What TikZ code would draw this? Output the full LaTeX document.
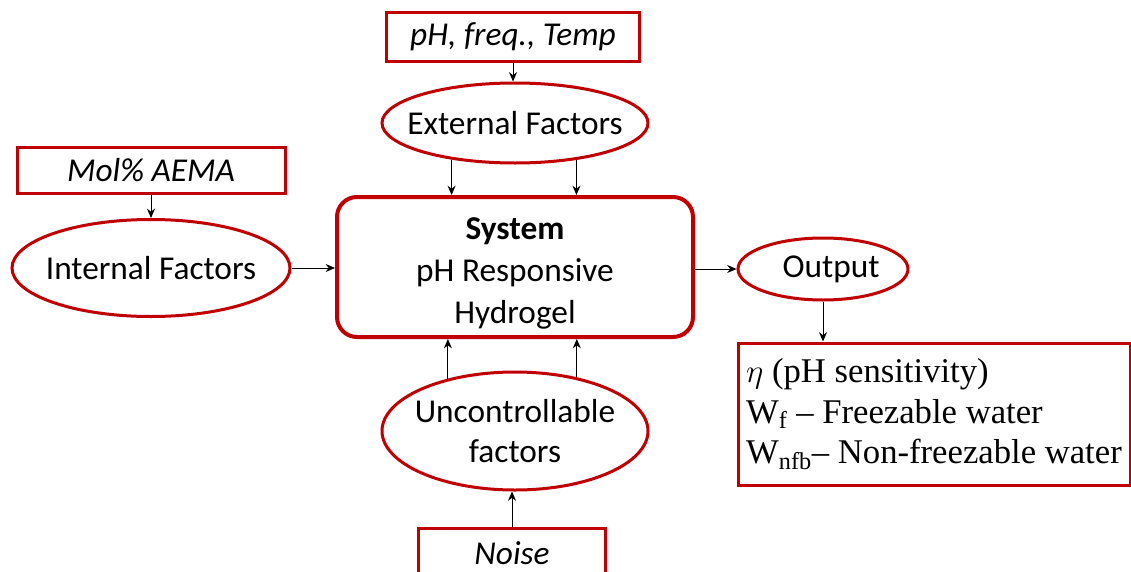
\documentclass[tikz,border=0pt]{standalone}
\usepackage{fontspec}
\setmainfont{Carlito}
\newfontfamily\resfont[Ligatures=TeX]{Liberation Serif}
\usetikzlibrary{shapes.geometric, arrows.meta}
\definecolor{dred}{RGB}{192,0,0}
\tikzstyle{param} = [rectangle, draw=dred, line width=2.25pt, inner sep=0pt, font=\fontsize{25}{30}\selectfont\itshape]
\tikzstyle{factor} = [ellipse, draw=dred, line width=2.25pt, inner sep=0pt, align=center, font=\fontsize{25}{30}\selectfont]
\tikzstyle{sysbox} = [rectangle, rounded corners=15pt, draw=dred, line width=3pt, align=center, font=\fontsize{25}{31.5}\selectfont]
\tikzstyle{arrow} = [line width=0.75pt, draw=black, -{Stealth[length=7pt,width=6pt]}]

\begin{document}
\begin{tikzpicture}[x=0.75pt, y=-0.75pt]
\useasboundingbox (0,0) rectangle (1131,571);
\node (system) [sysbox, minimum width=267pt, minimum height=105pt] at (515,267) {\rule{0pt}{26pt}\textbf{System}\\pH Responsive\\Hydrogel};
\node (tempbox) [param, minimum width=189.75pt, minimum height=36.75pt] at (513,37) {pH, freq., Temp};
\node (extf) [factor, minimum width=199.5pt, minimum height=60pt] at (515,123) {\makebox[0pt]{External Factors}};
\node (molbox) [param, minimum width=201pt, minimum height=34.5pt] at (151,170) {Mol\% AEMA};
\node (intf) [factor, minimum width=208.5pt, minimum height=72.75pt] at (151,268) {\makebox[0pt]{Internal Factors}};
\node (output) [factor, minimum width=127.5pt, minimum height=46.5pt] at (823,269) {\makebox[0pt]{\hspace{12pt}Output}};
\node (result) [rectangle, draw=dred, line width=2.25pt, minimum width=294pt, minimum height=106.5pt, inner sep=0pt, align=left, font=\resfont\fontsize{26}{30.5}\selectfont] at (934,414) {$\eta$ (pH sensitivity)\\W\textsubscript{f} – Freezable water\\W\textsubscript{nfb}– Non-freezable water};
\node (uncf) [factor, minimum width=199.5pt, minimum height=88.5pt] at (515,431) {\makebox[0pt]{Uncontrollable}\\\makebox[0pt]{factors}};
\node (noise) [param, minimum width=140.25pt, minimum height=36.75pt] at (512,553) {Noise};

\draw [arrow] (tempbox.south) -- (tempbox.south |- extf.north);
\draw [arrow] (extf.210.7) -- (extf.210.7 |- system.north);
\draw [arrow] (extf.329.3) -- (extf.329.3 |- system.north);
\draw [arrow] (molbox) -- (intf);
\draw [arrow] (intf.east) -- (intf.east -| system.west);
\draw [arrow] (system.east |- output.west) -- (output.west);
\draw [arrow] (output.south) -- (output.south |- result.north);
\draw [arrow] (uncf.142.2) -- (uncf.142.2 |- system.south);
\draw [arrow] (uncf.41.3) -- (uncf.41.3 |- system.south);
\draw [arrow] (noise.north) -- (noise.north |- uncf.south);
\end{tikzpicture}
\end{document}
